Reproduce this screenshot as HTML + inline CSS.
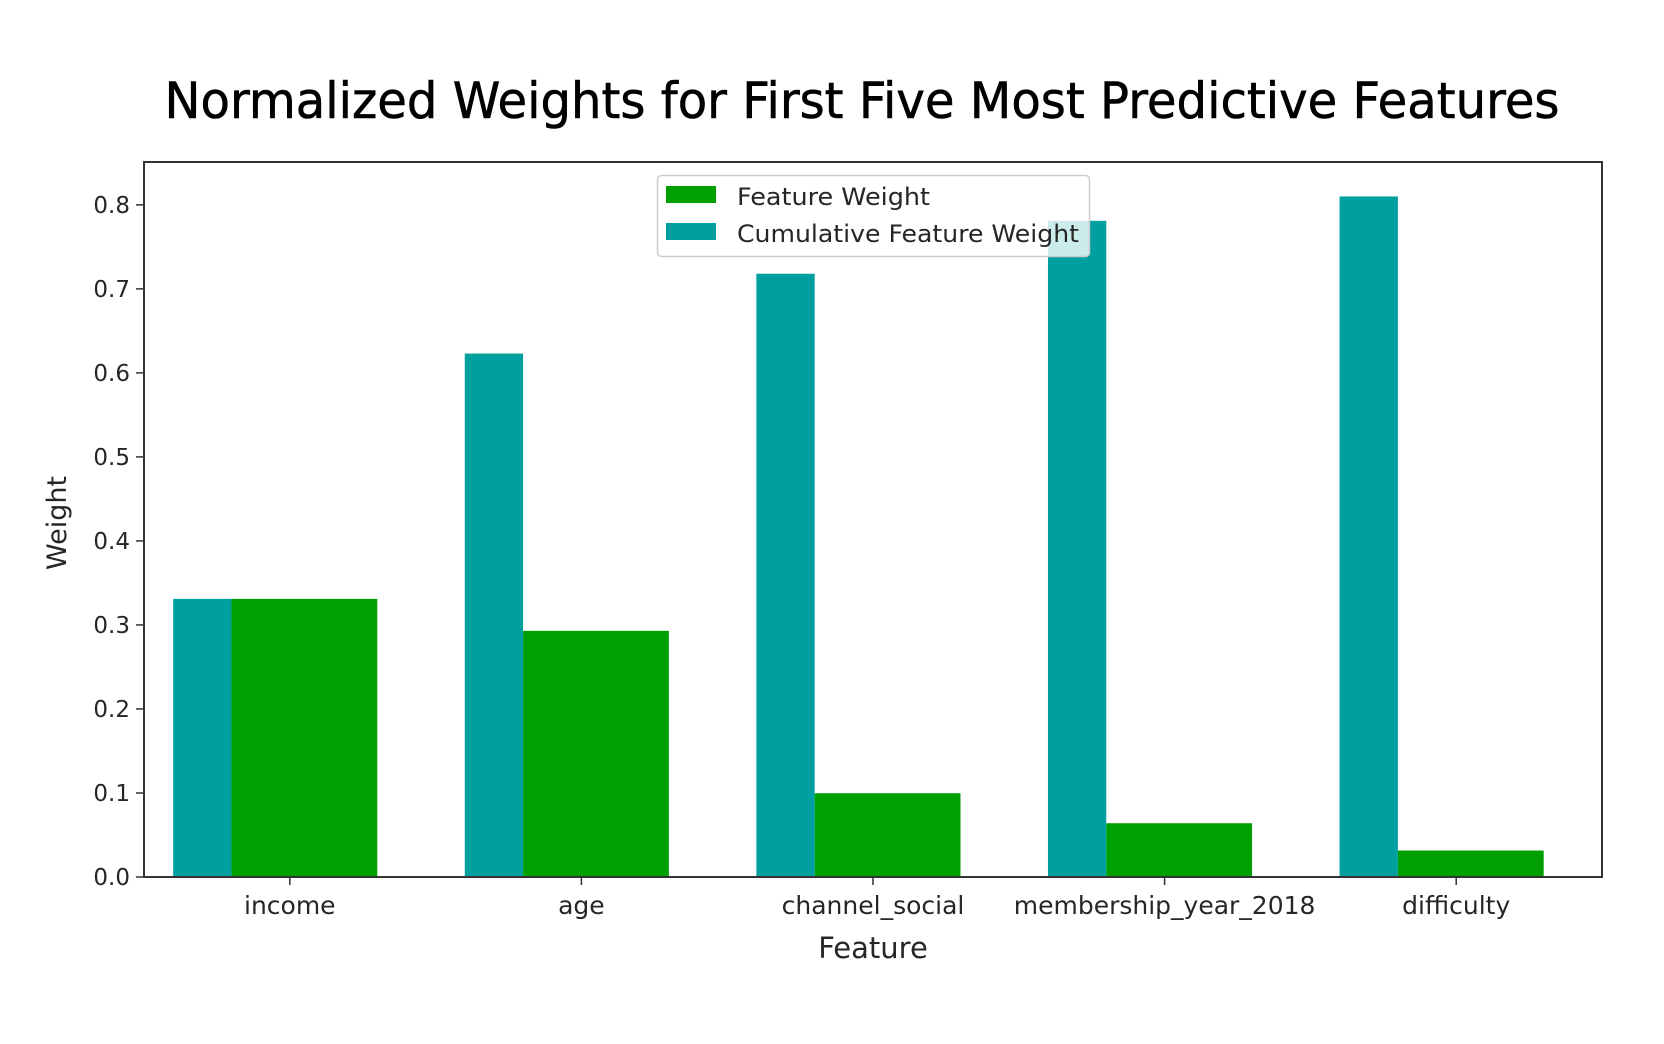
<!DOCTYPE html>
<html><head><meta charset="utf-8"><style>
html,body{margin:0;padding:0;background:#fff;}
svg{display:block;font-family:"DejaVu Sans","Liberation Sans",sans-serif;}
</style></head><body>
<svg id="chart" width="1664" height="1044" viewBox="0 0 1664 1044">
<rect width="1664" height="1044" fill="#fff"/>
<text x="862" y="118" font-size="50" text-anchor="middle" textLength="1395" lengthAdjust="spacingAndGlyphs" fill="#000" stroke="#000" stroke-width="0.6">Normalized Weights for First Five Most Predictive Features</text>
<g id="bars"></g>
<g id="axes"></g>
<g>
<rect x="657.5" y="175.5" width="432" height="81" rx="4" fill="#fff" fill-opacity="0.8" stroke="#ccc" stroke-width="1.5"/>
<rect x="666" y="186" width="50" height="17" fill="#00a000"/>
<text x="737" y="205" font-size="24" fill="#262626" textLength="193" lengthAdjust="spacingAndGlyphs">Feature Weight</text>
<rect x="666" y="223" width="50" height="17" fill="#00a0a0"/>
<text x="737" y="242" font-size="24" fill="#262626" textLength="342" lengthAdjust="spacingAndGlyphs">Cumulative Feature Weight</text>
</g>
</svg>
<script>
const categories=["income","age","channel_social","membership_year_2018","difficulty"];
const featureWeight=[0.331,0.293,0.0997,0.064,0.0315];
const cumulativeWeight=[0.331,0.623,0.718,0.781,0.810];
const yTicks=[0,0.1,0.2,0.3,0.4,0.5,0.6,0.7,0.8];
const yTickLabels=["0.0","0.1","0.2","0.3","0.4","0.5","0.6","0.7","0.8"];

const NS="http://www.w3.org/2000/svg";
const L=144,R=1602,T=162,B=877;
const xMin=-0.5,xMax=4.5,yMin=0,yMax=0.851;
function xs(v){return L+(v-xMin)/(xMax-xMin)*(R-L);}
function ys(v){return B-(v-yMin)/(yMax-yMin)*(B-T);}
function mk(tag,attrs,parent){const e=document.createElementNS(NS,tag);for(const k in attrs)e.setAttribute(k,attrs[k]);parent.appendChild(e);return e;}
const bars=document.getElementById('bars');
const axes=document.getElementById('axes');
categories.forEach((c,i)=>{
  const g=mk('rect',{x:xs(i-0.2),y:ys(featureWeight[i]),width:xs(i+0.3)-xs(i-0.2),height:ys(0)-ys(featureWeight[i]),fill:'#00a000'},bars);
  
  
  const t=mk('rect',{x:xs(i-0.4),y:ys(cumulativeWeight[i]),width:xs(i-0.2)-xs(i-0.4),height:ys(0)-ys(cumulativeWeight[i]),fill:'#00a0a0'},bars);
  
  
  const tk=mk('line',{x1:xs(i),x2:xs(i),y1:B,y2:B+8,stroke:'#333','stroke-width':1.5},axes);
  
  
  const lb=mk('text',{x:xs(i),y:B+37,'font-size':25,'text-anchor':'middle',fill:'#262626'},axes);
  lb.textContent=c;
  
  
});
yTicks.forEach((v,i)=>{
  const tk=mk('line',{x1:L-8,x2:L,y1:ys(v),y2:ys(v),stroke:'#333','stroke-width':1.5},axes);
  
  
  const lb=mk('text',{x:L-14,y:ys(v)+8,'font-size':23,'text-anchor':'end',fill:'#262626'},axes);
  lb.textContent=yTickLabels[i];
  
  
});
const frame=mk('rect',{x:L,y:T,width:R-L,height:B-T,fill:'none',stroke:'#333','stroke-width':2},axes);


const xt=mk('text',{x:(L+R)/2,y:958,'font-size':29,'text-anchor':'middle',fill:'#262626'},axes);
xt.textContent='Feature';


const yt=mk('text',{x:0,y:0,'font-size':27,'text-anchor':'middle',fill:'#262626',transform:'translate(66,523) rotate(-90)'},axes);
yt.textContent='Weight';


</script>
</body></html>
